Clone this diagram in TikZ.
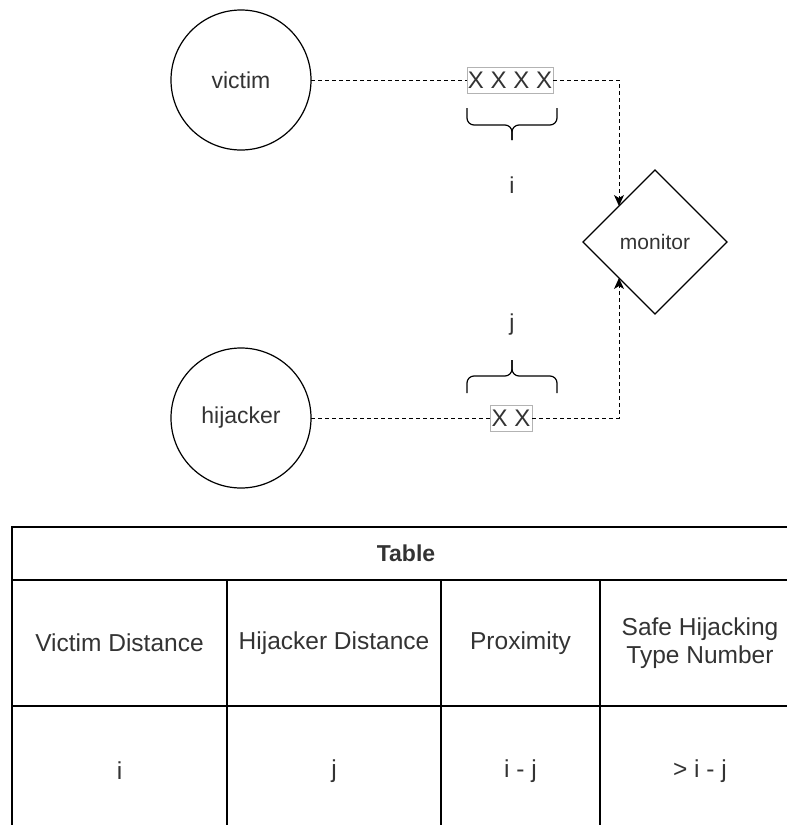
\documentclass[tikz,border=0pt]{standalone}
\usepackage{fontspec}
\setmainfont{Liberation Sans}
\usetikzlibrary{shapes.geometric,arrows.meta}
\definecolor{ink}{HTML}{333333}
\definecolor{boxgray}{HTML}{B3B3B3}
\begin{document}
\begin{tikzpicture}[x=1pt,y=-1pt,
  every node/.style={text=ink, font=\fontsize{23}{27}\selectfont},
  party/.style={circle, draw=black, line width=1.2pt, minimum size=140pt, inner sep=0pt, outer sep=0pt},
  watcher/.style={diamond, draw=black, line width=1.2pt, minimum width=144pt, minimum height=144pt, inner sep=0pt, outer sep=0pt, font=\fontsize{21}{25}\selectfont},
  hops/.style={rectangle, draw=boxgray, line width=0.7pt, minimum height=26pt, inner sep=0pt, outer sep=0pt, font=\fontsize{24}{26}\selectfont},
  link/.style={dashed, dash pattern=on 4pt off 3pt, line width=1pt, black},
  tip/.style={-{Stealth[length=11pt,width=10pt,inset=3pt]}},
  curly/.style={line width=1.2pt, black, rounded corners=7pt},
  cell/.style={rectangle, draw=black, line width=1.3pt, inner sep=0pt, outer sep=0pt, anchor=north west, align=center, font=\fontsize{24.5}{28}\selectfont},
]
\useasboundingbox (0,0) rectangle (787,825);
\clip (0,0) rectangle (787,825);

% parties and the monitor
\node[party] (victim) at (241,80) {victim};
\node[party] (hijacker) at (241,418) {hijacker};
\node[watcher] (monitor) at (655,242) {monitor};

% hop boxes on each route
\node[hops, minimum width=86pt] (vhops) at (510,80) {X X X X};
\node[hops, minimum width=42pt] (hhops) at (511,418) {X X};

% routes
\draw[link] (victim.east) -- (vhops.west);
\draw[link, tip] (vhops.east) -| (monitor.north west);
\draw[link] (hijacker.east) -- (hhops.west);
\draw[link, tip] (hhops.east) -| (monitor.south west);

% braces with their distance labels
\draw[curly] (467,108) -- (467,125) -- (512,125) -- (512,140);
\draw[curly] (557,108) -- (557,125) -- (512,125) -- (512,140);
\node (ilabel) at (512,185) {i};

\draw[curly] (467,393) -- (467,376) -- (512,376) -- (512,360);
\draw[curly] (557,393) -- (557,376) -- (512,376) -- (512,360);
\node (jlabel) at (512,325) {j};

% table
\node[cell, minimum width=788pt, minimum height=53pt, font=\bfseries\fontsize{23}{26}\selectfont] (title) at (12,527) {Table};
\node[cell, minimum width=215pt, minimum height=126pt] (h1) at (12,580) {Victim Distance};
\node[cell, minimum width=214pt, minimum height=126pt] (h2) at (227,580) {Hijacker Distance};
\node[cell, minimum width=159pt, minimum height=126pt] (h3) at (441,580) {Proximity};
\node[cell, minimum width=200pt, minimum height=126pt] (h4) at (600,580) {Safe Hijacking\\Type Number};
\node[cell, minimum width=215pt, minimum height=130pt] (v1) at (12,706) {i};
\node[cell, minimum width=214pt, minimum height=130pt] (v2) at (227,706) {j};
\node[cell, minimum width=159pt, minimum height=130pt] (v3) at (441,706) {i - j};
\node[cell, minimum width=200pt, minimum height=130pt] (v4) at (600,706) {> i - j};
\end{tikzpicture}
\end{document}
